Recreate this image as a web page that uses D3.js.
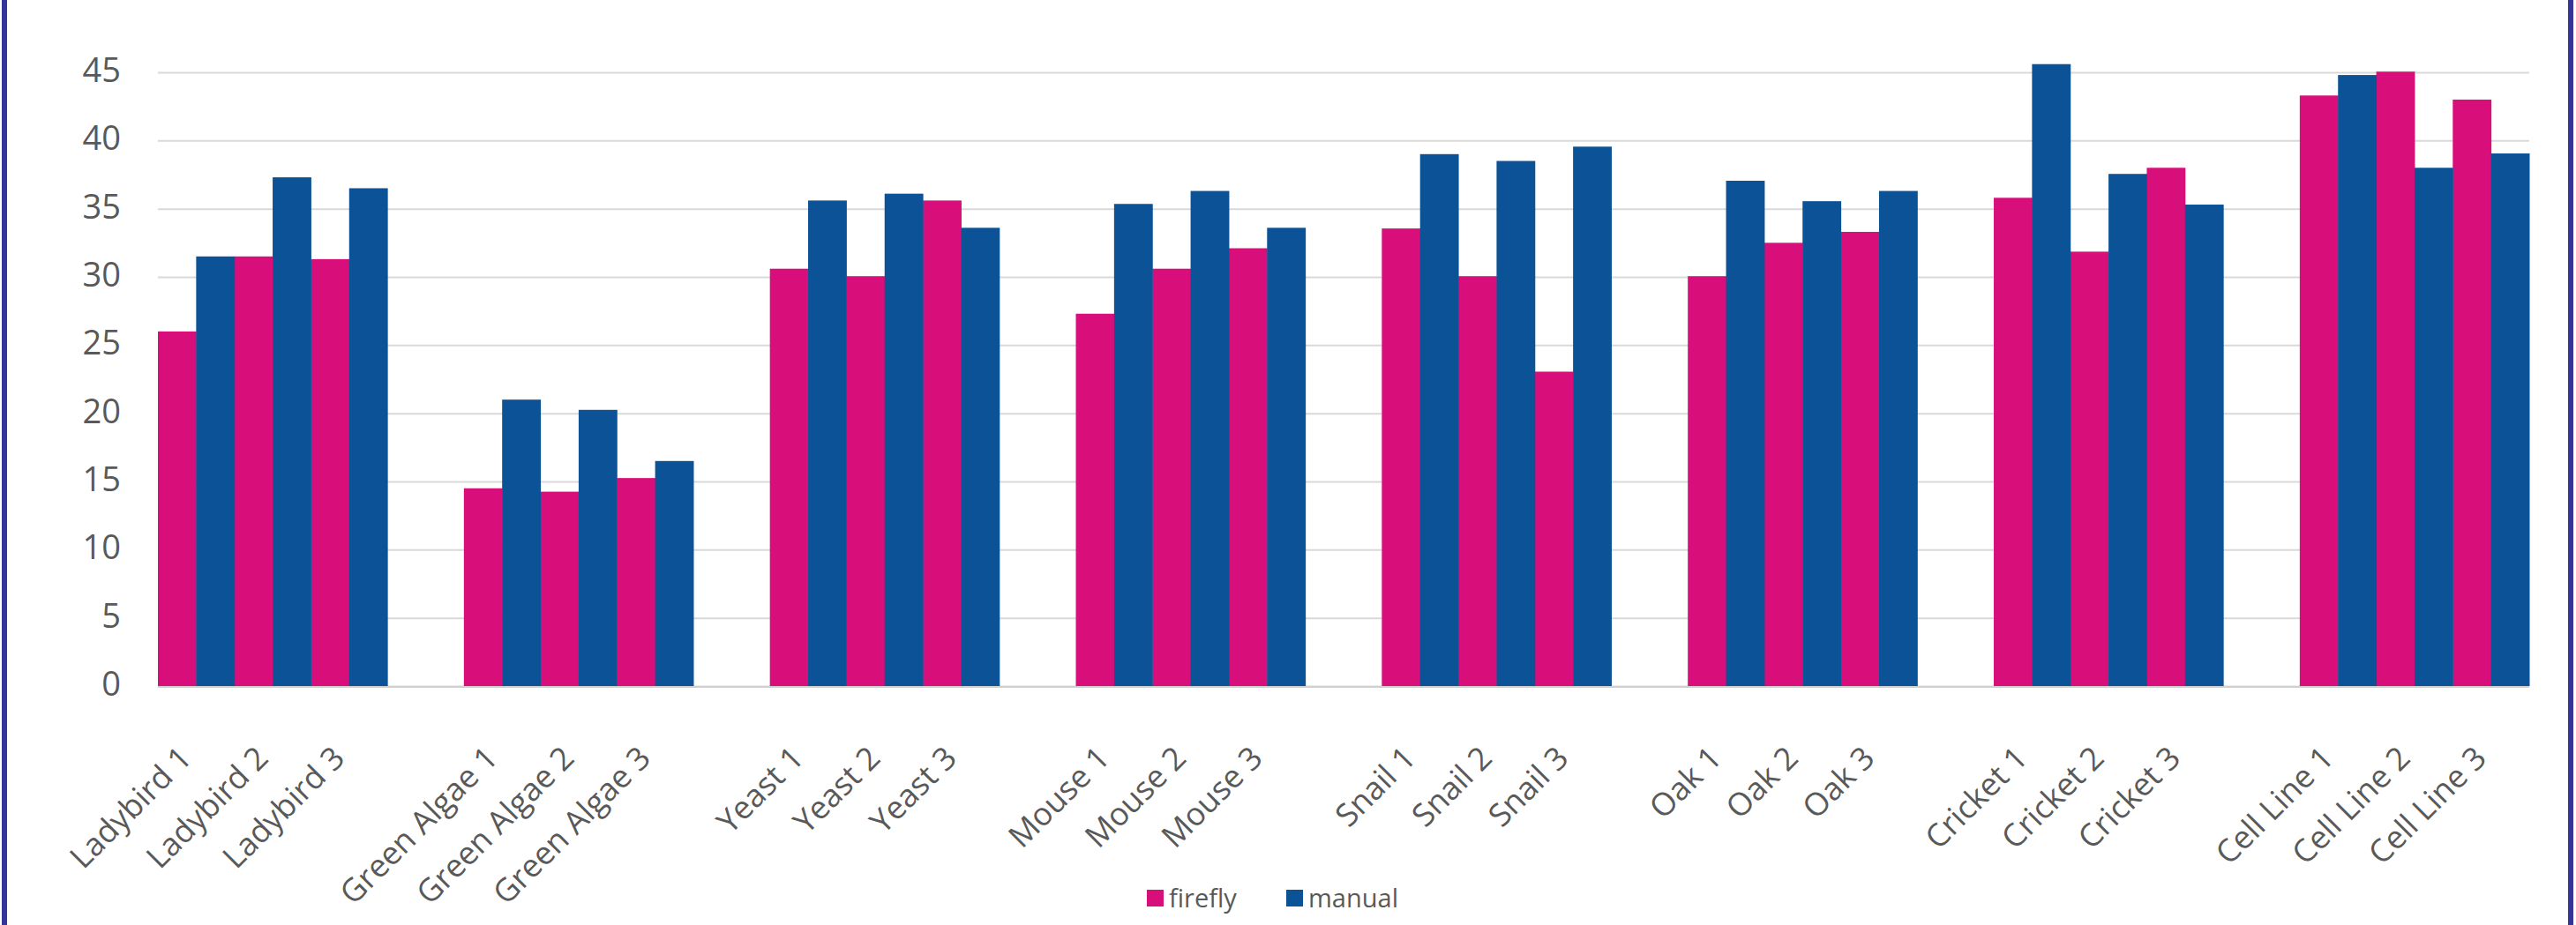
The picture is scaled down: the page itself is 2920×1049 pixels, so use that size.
<!DOCTYPE html>
<html>
<head>
<meta charset="utf-8">
<script src="https://cdn.jsdelivr.net/npm/d3@7"></script>
<style>
  html, body { margin: 0; padding: 0; background: #ffffff; }
  svg { display: block; }
</style>
</head>
<body>
<svg id="chart" width="2920" height="1049"></svg>
<script>
// ---- data ----
const categories = [
  "Ladybird 1", "Ladybird 2", "Ladybird 3",
  "Green Algae 1", "Green Algae 2", "Green Algae 3",
  "Yeast 1", "Yeast 2", "Yeast 3",
  "Mouse 1", "Mouse 2", "Mouse 3",
  "Snail 1", "Snail 2", "Snail 3",
  "Oak 1", "Oak 2", "Oak 3",
  "Cricket 1", "Cricket 2", "Cricket 3",
  "Cell Line 1", "Cell Line 2", "Cell Line 3"
];
const seriesNames = ["firefly", "manual"];
const firefly = [26.0, 31.5, 31.3, 14.5, 14.25, 15.25, 30.6, 30.05, 35.6, 27.3, 30.6, 32.1,
                 33.55, 30.05, 23.05, 30.05, 32.5, 33.3, 35.8, 31.85, 38.0, 43.3, 45.05, 43.0];
const manual  = [31.5, 37.3, 36.5, 21.0, 20.25, 16.5, 35.6, 36.1, 33.6, 35.35, 36.3, 33.6,
                 39.0, 38.5, 39.55, 37.05, 35.55, 36.3, 45.6, 37.55, 35.3, 44.8, 38.0, 39.05];
const yTicks = [0, 5, 10, 15, 20, 25, 30, 35, 40, 45];
const groupSize = 3;

// ---- styles ----
const colors = { firefly: "#d80f7b", manual: "#0c5296" };
const textColor = "#595959";
const fontFamily = "'Open Sans', 'Segoe UI', sans-serif";

// ---- layout ----
const svg = d3.select("#chart");
const W = 2920, H = 1049;
const plot = { left: 179, right: 2867, top: 82, bottom: 778 };

// slots: categories with a blank slot between groups
const slots = [];
categories.forEach((c, i) => {
  slots.push(c);
  if ((i + 1) % groupSize === 0 && i < categories.length - 1) slots.push("__gap" + i);
});

const x = d3.scaleBand().domain(slots).range([plot.left, plot.right]).padding(0);
const xs = d3.scaleBand().domain(seriesNames).range([0, x.bandwidth()]).padding(0);
const y = d3.scaleLinear().domain([0, 45]).range([plot.bottom, plot.top]);

// frame borders (left and right)
svg.append("rect").attr("x", 2).attr("y", 0).attr("width", 6).attr("height", H).attr("fill", "#33359a");
svg.append("rect").attr("x", 2911).attr("y", 0).attr("width", 6).attr("height", H).attr("fill", "#33359a");

// gridlines
const yAxis = d3.axisLeft(y).tickValues(yTicks).tickSize(-(plot.right - plot.left)).tickFormat(d3.format("d")).tickPadding(42);
const gy = svg.append("g").attr("transform", `translate(${plot.left},0)`).call(yAxis);
gy.select(".domain").remove();
gy.selectAll(".tick line").attr("stroke", "#d9d9d9").attr("stroke-width", 2);
gy.selectAll(".tick text")
  .attr("fill", textColor)
  .attr("font-family", fontFamily)
  .attr("font-size", 38)
  .attr("dy", "0.28em");

// bars
const data = categories.map((c, i) => ({ cat: c, values: { firefly: firefly[i], manual: manual[i] } }));
const gBars = svg.append("g");
seriesNames.forEach(s => {
  gBars.selectAll("rect." + s)
    .data(data)
    .join("rect")
    .attr("class", s)
    .attr("x", d => x(d.cat) + xs(s))
    .attr("width", xs.bandwidth() + 0.5)
    .attr("y", d => y(d.values[s]))
    .attr("height", d => y(0) - y(d.values[s]))
    .attr("fill", colors[s]);
});

// baseline
svg.append("line")
  .attr("x1", plot.left).attr("x2", plot.right)
  .attr("y1", y(0) + 1).attr("y2", y(0) + 1)
  .attr("stroke", "#d0d0d0").attr("stroke-width", 2);

// x labels, rotated -45
const xAxis = d3.axisBottom(x).tickValues(categories).tickSize(0).tickPadding(0);
const gx = svg.append("g").attr("transform", `translate(0,${plot.bottom})`).call(xAxis);
gx.select(".domain").remove();
gx.selectAll(".tick text")
  .attr("fill", textColor)
  .attr("font-family", fontFamily)
  .attr("font-size", 36)
  .attr("text-anchor", "end")
  .attr("dy", null)
  .attr("y", 0)
  .attr("transform", "translate(-3,84) rotate(-45)");

// legend
const legend = svg.append("g").attr("transform", "translate(1300,1019)");
const legendItems = [
  { name: "firefly", x: 0 },
  { name: "manual", x: 158 }
];
legendItems.forEach(it => {
  const g = legend.append("g").attr("transform", `translate(${it.x},0)`);
  g.append("rect").attr("x", 0).attr("y", -10).attr("width", 19).attr("height", 19).attr("fill", colors[it.name]);
  g.append("text").attr("x", 25).attr("y", 0).attr("dy", "0.35em")
    .attr("fill", textColor).attr("font-family", fontFamily).attr("font-size", 29)
    .text(it.name);
});
</script>
</body>
</html>
